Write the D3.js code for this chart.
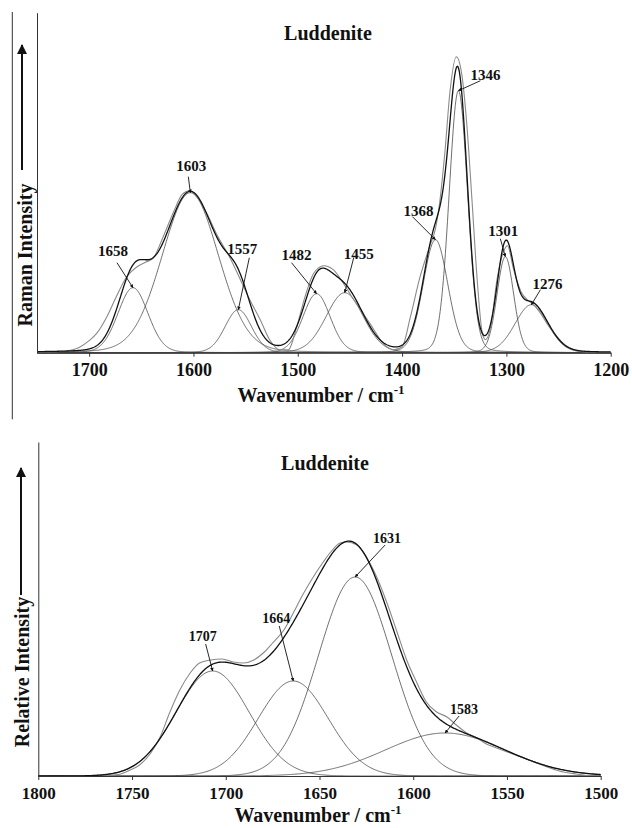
<!DOCTYPE html>
<html><head><meta charset="utf-8">
<script src="https://cdn.jsdelivr.net/npm/d3@7"></script>
<style>
html,body{margin:0;padding:0;background:#fff;}
text{font-family:"Liberation Serif","Times New Roman",serif;font-weight:bold;fill:#111;}
</style></head>
<body>
<svg id="c" width="632" height="828"></svg>
<script>
// ---------- DATA ----------
const chartTitle = "Luddenite";
// Top panel (Raman, 1750–1200 cm-1): fitted band parameters
const topBandCenters = [1658, 1603, 1557, 1482, 1455, 1368, 1346, 1301, 1276];
const topBandHeights = [65, 160, 43, 59, 60, 113, 262, 96, 48];
const topBandWidths  = [34, 64, 30, 31, 42, 28, 21, 19, 37];
const topObsWavenumber = [1750,1740,1730,1720,1710,1700,1693,1683,1674,1664,1654,1645,1639,1629,1619,1611,1604,1597,1587,1578,1565,1555,1546,1536,1527,1517,1509,1501,1493,1485,1475,1466,1456,1447,1437,1427,1418,1408,1400,1392,1383,1373,1368,1364,1359,1354,1348,1343,1338,1333,1328,1323,1320,1315,1309,1302,1299,1293,1286,1280,1274,1267,1261,1254,1244,1236,1223,1200];
const topObsIntensity  = [0,0.5,1,2,5,12,19,36,56,76,86,91,94,116,141,158,162,156,139,119,95,73,53,33,13,3,3,26,56,79,87,83,69,54,39,23,9,3,6,36,75,108,124,150,200,262,296,280,229,153,73,19,13,26,73,103,107,83,61,53,48,39,29,19,8,3,0.5,0];
const topTicks = [1700, 1600, 1500, 1400, 1300, 1200];

// Bottom panel (1800–1500 cm-1)
const botBandCenters = [1707, 1664, 1631, 1583];
const botBandHeights = [105, 95, 199, 43];
const botBandWidths  = [46, 44, 46, 75];
const botObsWavenumber = [1800,1790,1780,1770,1760,1756,1751,1746,1740,1735,1730,1724.5,1719,1714,1708,1702,1696,1690.6,1685,1680,1675,1669,1664,1659,1653,1648,1644,1639,1635.5,1630,1625,1619.5,1614,1609,1603.5,1598,1593,1587.5,1582,1577,1571.5,1566,1561,1555.5,1548.4,1541,1534,1527,1520,1513,1502,1500];
const botObsIntensity  = [0.5,0,0.5,0,1,2,6,11,23,39,63,86,103,113,116,117,114,113,116,123,133,146,163,181,200,214,224,233,234,231,219,199,173,146,116,93,74,64,59,51,43,38,32,28,23,18,13,8,4,2,0,0];
const botTicks = [1800, 1750, 1700, 1650, 1600, 1550, 1500];

const topYLabel = "Raman Intensity";
const botYLabel = "Relative Intensity";
const xLabelMain = "Wavenumber / cm";
const xLabelSup = "-1";

// ---------- LAYOUT (pixels / styles) ----------
const topLabelOffsets = [[-20,-32,-16,-25],[1,-22,-2,-16],[4,-56,11,-52],[-20,-34,-25,-31],[14,-34,9,-35],[-17,-24,-23,-23],[27,-11,22,-10],[-2,-21,-5,-18],[16,-16,9,-15]];
const botLabelOffsets = [[-10,-30,-7,-27],[-17,-58,-14,-55],[32,-34,30,-32],[19,-19,14,-17]];

const svg = d3.select("#c");
const defs = svg.append("defs");
defs.append("marker").attr("id","ah").attr("viewBox","0 0 10 10").attr("refX",9).attr("refY",5)
  .attr("markerWidth",5).attr("markerHeight",5).attr("orient","auto")
  .append("path").attr("d","M0,0 L10,5 L0,10 Z").attr("fill","#111");
defs.append("marker").attr("id","ah2").attr("viewBox","0 0 10 10").attr("refX",9).attr("refY",5)
  .attr("markerWidth",4).attr("markerHeight",4).attr("orient","auto")
  .append("path").attr("d","M0,0 L10,5 L0,10 Z").attr("fill","#111");

function band(w, c, h, fw, eta){
  const r = (w - c)/fw;
  const g = Math.exp(-4*Math.LN2*r*r);
  const l = 1/(1+4*r*r);
  return h*(eta*l + (1-eta)*g);
}

function panel(o){
  const g = svg.append("g");
  const x = d3.scaleLinear().domain(o.xDomain).range(o.xRange);
  const y = d3.scaleLinear().domain(o.yDomain).range(o.yRange);
  const step = o.xDomain[0] > o.xDomain[1] ? -1 : 1;
  const grid = d3.range(o.xDomain[0], o.xDomain[1] + step*0.5, step*0.5);
  const line = d3.line().x(d=>x(d[0])).y(d=>y(d[1]));

  // components
  o.centers.forEach((c,i)=>{
    const pts = grid.map(w=>[w, band(w,c,o.heights[i],o.widths[i],o.eta)]);
    g.append("path").attr("d", line(pts)).attr("fill","none").attr("stroke","#4a4a4a").attr("stroke-width",0.8);
  });
  // observed
  const obs = o.obsW.map((w,i)=>[w,o.obsI[i]]);
  g.append("path").attr("d", d3.line().x(d=>x(d[0])).y(d=>y(d[1])).curve(d3.curveMonotoneX)(obs.slice().reverse()))
    .attr("fill","none").attr("stroke","#8a8a8a").attr("stroke-width",1.1);
  // fitted envelope
  const env = grid.map(w=>[w, d3.sum(o.centers,(c,i)=>band(w,c,o.heights[i],o.widths[i],o.eta))]);
  g.append("path").attr("d", line(env)).attr("fill","none").attr("stroke","#111").attr("stroke-width",1.3);

  // axes
  const xa = d3.axisBottom(x).tickValues(o.ticks).tickSize(4).tickSizeOuter(0).tickPadding(6.5).tickFormat(d3.format("d"));
  const xg = g.append("g").attr("transform",`translate(0,${o.yRange[0]})`).call(xa);
  xg.select(".domain").attr("stroke","#333").attr("stroke-width",1);
  xg.selectAll(".tick line").attr("stroke","#333");
  xg.selectAll(".tick text").attr("font-size",o.tickFont).attr("font-family","Liberation Serif").attr("font-weight","bold").attr("fill","#111");
  const ya = d3.axisLeft(y).tickValues([]).tickSizeOuter(0);
  const yg = g.append("g").attr("transform",`translate(${o.xRange[0]},0)`).call(ya);
  yg.select(".domain").attr("stroke","#333").attr("stroke-width",1);

  // band labels with arrows
  o.centers.forEach((c,i)=>{
    const px = x(c), py = y(o.heights[i]);
    const off = o.offsets[i];
    g.append("line").attr("x1",px+off[2]).attr("y1",py+off[3]).attr("x2",px).attr("y2",py)
      .attr("stroke","#111").attr("stroke-width",0.9).attr("marker-end","url(#ah2)");
    g.append("text").attr("x",px+off[0]).attr("y",py+off[1]).attr("text-anchor","middle")
      .attr("font-size",o.labelFont).text(String(c));
  });

  // title
  g.append("text").attr("x",o.titlePos[0]).attr("y",o.titlePos[1]).attr("text-anchor","middle")
    .attr("font-size",20).text(chartTitle);
  // x label
  const xt = g.append("text").attr("x",o.xLabelPos[0]).attr("y",o.xLabelPos[1]).attr("text-anchor","middle").attr("font-size",20);
  xt.append("tspan").text(xLabelMain);
  xt.append("tspan").attr("font-size",13).attr("dy",-8).text(xLabelSup);
  // y label
  g.append("text").attr("transform",`translate(${o.yLabelPos[0]},${o.yLabelPos[1]}) rotate(-90)`)
    .attr("text-anchor","middle").attr("font-size",20).text(o.yLabel);
  // y arrow
  g.append("line").attr("x1",o.arrow[0]).attr("y1",o.arrow[1]).attr("x2",o.arrow[0]).attr("y2",o.arrow[2])
    .attr("stroke","#111").attr("stroke-width",2).attr("marker-end","url(#ah)");
}

// outer frame line on the left of the top panel
svg.append("line").attr("x1",12.3).attr("x2",12.3).attr("y1",12).attr("y2",419.3).attr("stroke","#333").attr("stroke-width",1);

panel({
  xDomain:[1750,1200], xRange:[37,610.7], yDomain:[0,340], yRange:[352.7,12.7], eta:0.1,
  centers:topBandCenters, heights:topBandHeights, widths:topBandWidths,
  obsW:topObsWavenumber, obsI:topObsIntensity, ticks:topTicks, tickFont:18, labelFont:15,
  offsets:topLabelOffsets, titlePos:[328,39.5], xLabelPos:[321,402], yLabel:topYLabel,
  yLabelPos:[32,255], arrow:[22,170,45]
});
panel({
  xDomain:[1800,1500], xRange:[38.3,600.7], yDomain:[0,334], yRange:[776,442], eta:0,
  centers:botBandCenters, heights:botBandHeights, widths:botBandWidths,
  obsW:botObsWavenumber, obsI:botObsIntensity, ticks:botTicks, tickFont:17, labelFont:14,
  offsets:botLabelOffsets, titlePos:[325,470], xLabelPos:[318,822], yLabel:botYLabel,
  yLabelPos:[29,672], arrow:[21,595,468]
});
</script>
</body></html>
